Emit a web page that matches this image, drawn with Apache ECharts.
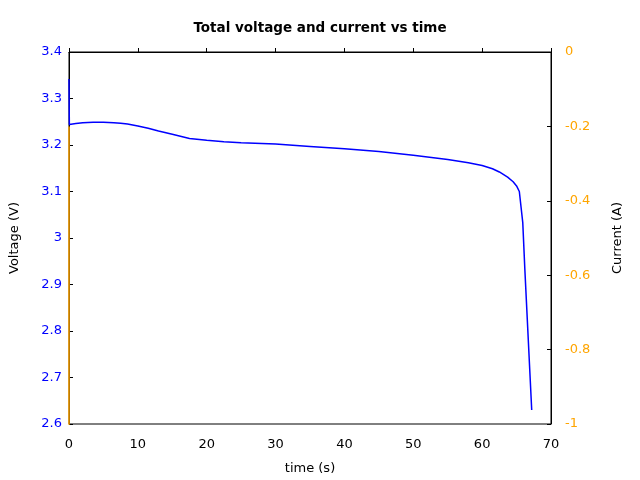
<!DOCTYPE html>
<html><head><meta charset="utf-8">
<script src="https://cdn.jsdelivr.net/npm/echarts@6/dist/echarts.min.js"></script>
<style>html,body{margin:0;padding:0;background:#fff}#c{width:640px;height:480px}</style>
</head><body><div id="c"></div>
<script>
const timeS = [0, 0.05, 1, 2, 3.5, 5, 6.5, 7.5, 8.5, 10, 11.5, 13, 15, 17.5, 20, 22.5, 25, 30, 35, 40, 45, 50, 55, 58, 60, 61.5, 62.5, 63.7, 64.5, 65.0, 65.4, 65.9, 66.2, 67.2];
const voltageV = [3.342, 3.244, 3.246, 3.248, 3.249, 3.249, 3.248, 3.247, 3.245, 3.241, 3.236, 3.230, 3.223, 3.214, 3.210, 3.207, 3.205, 3.202, 3.197, 3.192, 3.186, 3.178, 3.169, 3.162, 3.156, 3.149, 3.142, 3.131, 3.121, 3.112, 3.100, 3.033, 2.933, 2.630];
const currentTime = [0, 0, 67.2];
const currentA = [-0.2, -2, -2];
const voltTicks = ['2.6','2.7','2.8','2.9','3','3.1','3.2','3.3','3.4'];

const font = 'DejaVu Sans';
const chart = echarts.init(document.getElementById('c'));
chart.setOption({
  animation: false,
  title: {text: 'Total voltage and current vs time', left: 'center', top: 16,
    textStyle: {fontFamily: font, fontSize: 13.5, fontWeight: 'bold', color: '#000'}},
  grid: {left: 69, right: 89, top: 52, bottom: 54, show: true, borderColor: '#000', borderWidth: 1},
  xAxis: {type: 'value', min: 0, max: 70, interval: 10, name: 'time (s)', nameLocation: 'middle', nameGap: 38,
    nameTextStyle: {fontFamily: font, fontSize: 13, color: '#000'},
    axisLine: {lineStyle: {color: '#000'}}, axisTick: {inside: true, length: 4, lineStyle: {color: '#000'}},
    axisLabel: {fontFamily: font, fontSize: 13, color: '#000', margin: 14}, splitLine: {show: false}},
  yAxis: [
    {type: 'value', min: 2.6, max: 3.4, interval: 0.1, name: 'Voltage (V)', nameLocation: 'middle', nameGap: 48,
      nameTextStyle: {fontFamily: font, fontSize: 13, color: '#000'},
      axisLine: {show: true, lineStyle: {color: '#000'}}, axisTick: {inside: true, length: 4, lineStyle: {color: '#000'}},
      axisLabel: {fontFamily: font, fontSize: 13, color: '#0000ff', margin: 7,
        formatter: v => voltTicks[Math.round((v - 2.6) * 10)] ?? ''},
      splitLine: {show: false}},
    {type: 'value', min: -1, max: 0, interval: 0.2, name: 'Current (A)', nameLocation: 'middle', nameGap: 60,
      position: 'right',
      nameTextStyle: {fontFamily: font, fontSize: 13, color: '#000'},
      axisLine: {show: true, lineStyle: {color: '#000'}}, axisTick: {inside: true, length: 4, lineStyle: {color: '#000'}},
      axisLabel: {fontFamily: font, fontSize: 13, color: '#ffa500', margin: 14,
        formatter: v => String(Math.round(v * 10) / 10)},
      splitLine: {show: false}}
  ],
  series: [
    {type: 'line', yAxisIndex: 1, showSymbol: false, clip: true,
      data: currentTime.map((t, i) => [t, currentA[i]]),
      lineStyle: {color: '#ffa500', width: 1.5}, itemStyle: {color: '#ffa500'}},
    {type: 'line', yAxisIndex: 0, showSymbol: false, clip: true,
      data: timeS.map((t, i) => [t, voltageV[i]]),
      lineStyle: {color: '#0000ff', width: 1.5}, itemStyle: {color: '#0000ff'}}
  ]
});
</script></body></html>
